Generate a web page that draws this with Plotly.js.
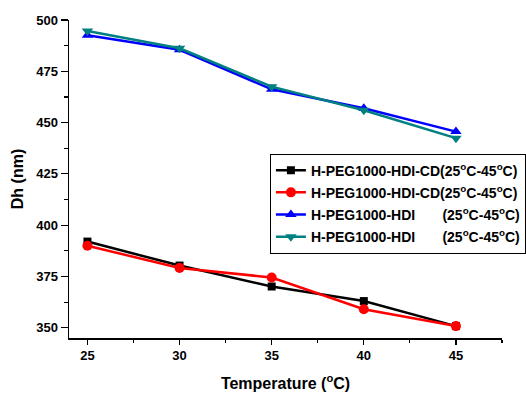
<!DOCTYPE html>
<html>
<head>
<meta charset="utf-8">
<script src="https://cdn.plot.ly/plotly-3.0.1.min.js"></script>
<style>html,body{margin:0;padding:0;background:#fff;}#chart{width:526px;height:393px;}</style>
</head>
<body>
<div id="chart"></div>
<script>
const temperature = [25, 30, 35, 40, 45];
const cdA = [392, 380.3, 370.1, 363, 350.8];
const cdB = [390, 379.1, 374.5, 359, 350.8];
const hdiA = [492.6, 485.5, 466.2, 457, 445.6];
const hdiB = [494.6, 486.2, 467.5, 456, 442.4];
const seriesNames = [
  'H-PEG1000-HDI-CD(25<sup>o</sup>C-45<sup>o</sup>C)',
  'H-PEG1000-HDI-CD(25<sup>o</sup>C-45<sup>o</sup>C)',
  'H-PEG1000-HDI\u00a0\u00a0\u00a0\u00a0\u00a0\u00a0\u00a0(25<sup>o</sup>C-45<sup>o</sup>C)',
  'H-PEG1000-HDI\u00a0\u00a0\u00a0\u00a0\u00a0\u00a0\u00a0(25<sup>o</sup>C-45<sup>o</sup>C)'
];
const seriesValues = [cdA, cdB, hdiA, hdiB];
const colors = ['#000000', '#ff0000', '#0000ff', '#008080'];
const symbols = ['square', 'circle', 'triangle-up', 'triangle-down'];
const sizes = [8, 10, 10, 10];

const traces = seriesValues.map((v, i) => ({
  x: temperature, y: v, name: seriesNames[i], type: 'scatter', mode: 'lines+markers',
  legendgroup: 'g' + i,
  line: {color: colors[i], width: 2.5},
  marker: {color: colors[i], symbol: symbols[i], size: sizes[i]}
}));

const ff = 'Liberation Sans, Arial, sans-serif';
const layout = {
  width: 526, height: 393,
  margin: {l: 69, r: 24, t: 20, b: 55, autoexpand: false},
  paper_bgcolor: '#fff', plot_bgcolor: '#fff',
  font: {family: ff, size: 13, color: '#000'},
  showlegend: true,
  legend: {
    x: 0.464, y: 0.58, xanchor: 'left', yanchor: 'top',
    bordercolor: '#000', borderwidth: 1, bgcolor: '#fff',
    font: {family: ff, size: 14, color: '#000', weight: 'bold'},
    traceorder: 'grouped', tracegroupgap: 1, itemwidth: 30
  },
  xaxis: {
    range: [24, 47.5], tickvals: [25, 30, 35, 40, 45],
    showline: true, linecolor: '#000', linewidth: 1.5, mirror: false,
    showgrid: false, zeroline: false,
    ticks: 'outside', ticklen: 5, tickwidth: 1.2, tickcolor: '#000',
    tickfont: {family: ff, size: 13, weight: 'bold'},
    minor: {dtick: 2.5, tick0: 25, ticks: 'outside', ticklen: 3, tickwidth: 1.2, tickcolor: '#000', showgrid: false},
    title: {text: 'Temperature (<sup>o</sup>C)', standoff: 15,
      font: {family: ff, size: 16, weight: 'bold'}}
  },
  yaxis: {
    range: [345, 500], tickvals: [350, 375, 400, 425, 450, 475, 500],
    showline: true, linecolor: '#000', linewidth: 1.5, mirror: false,
    showgrid: false, zeroline: false,
    ticks: 'outside', ticklen: 7, tickwidth: 1.2, tickcolor: '#000',
    tickfont: {family: ff, size: 13, weight: 'bold'},
    minor: {dtick: 12.5, tick0: 350, ticks: 'outside', ticklen: 4, tickwidth: 1.2, tickcolor: '#000', showgrid: false},
    title: {text: 'Dh (nm)', standoff: 8,
      font: {family: ff, size: 16, weight: 'bold'}}
  }
};

Plotly.newPlot('chart', traces, layout, {displayModeBar: false, staticPlot: true});
</script>
</body>
</html>
